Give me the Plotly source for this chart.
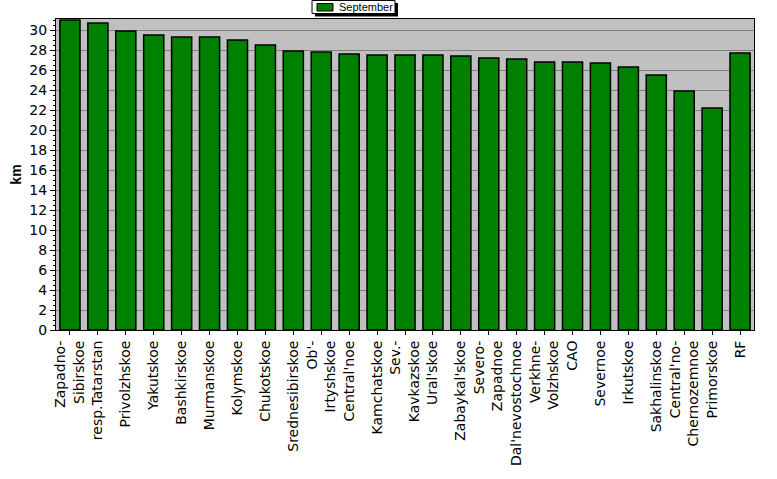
import plotly.graph_objects as go

categories = ["Zapadno-<br>Sibirskoe", "resp.Tatarstan", "Privolzhskoe", "Yakutskoe", "Bashkirskoe",
              "Murmanskoe", "Kolymskoe", "Chukotskoe", "Srednesibirskoe", "Ob'-<br>Irtyshskoe",
              "Central'noe", "Kamchatskoe", "Sev.-<br>Kavkazskoe", "Ural'skoe", "Zabaykal'skoe",
              "Severo-<br>Zapadnoe", "Dal'nevostochnoe", "Verkhne-<br>Volzhskoe", "CAO", "Severnoe",
              "Irkutskoe", "Sakhalinskoe", "Central'no-<br>Chernozemnoe", "Primorskoe", "RF"]
september = [31.0, 30.7, 29.9, 29.5, 29.3, 29.3, 29.0, 28.5, 27.9, 27.8,
             27.6, 27.5, 27.5, 27.5, 27.4, 27.2, 27.1, 26.8, 26.8, 26.7,
             26.3, 25.5, 23.9, 22.2, 27.7]
series_name = "September"

W, H = 777, 479
L, R, T, B = 56, 23, 19, 149
PW, PH = W - L - R, H - T - B


def px(x):
    return (x - L) / PW


def py(y):
    return (H - B - y) / PH


fig = go.Figure()
fig.add_trace(go.Bar(
    x=categories, y=september, name=series_name,
    marker=dict(color="#008000", line=dict(color="black", width=1.5)),
    showlegend=False,
))

# manual legend box with drop shadow
shapes = [
    dict(type="rect", xref="paper", yref="paper", x0=px(315), x1=px(398), y0=py(16.5), y1=py(3),
         fillcolor="black", line=dict(width=0), layer="above"),
    dict(type="rect", xref="paper", yref="paper", x0=px(312), x1=px(395), y0=py(13.5), y1=py(0.5),
         fillcolor="white", line=dict(color="black", width=1), layer="above"),
    dict(type="rect", xref="paper", yref="paper", x0=px(317), x1=px(333), y0=py(11), y1=py(3.5),
         fillcolor="#008000", line=dict(color="black", width=1), layer="above"),
]

fig.update_layout(
    width=W, height=H,
    margin=dict(l=L, r=R, t=T, b=B, pad=0, autoexpand=False),
    paper_bgcolor="white", plot_bgcolor="#C0C0C0",
    bargap=0.28,
    font=dict(family="DejaVu Sans, sans-serif", size=14, color="black"),
    showlegend=False,
    shapes=shapes,
    annotations=[dict(text=series_name, xref="paper", yref="paper", x=px(337), y=py(7),
                      xanchor="left", yanchor="middle", showarrow=False,
                      font=dict(family="Liberation Sans, Arial, sans-serif", size=11))],
    xaxis=dict(
        tickangle=-90, showgrid=False, ticks="outside", ticklen=4, tickcolor="black",
        showline=True, linecolor="black", linewidth=1, mirror=True,
        tickfont=dict(size=14),
    ),
    yaxis=dict(
        range=[0, 31.1], dtick=2, tick0=0, ticks="outside", ticklen=5, tickcolor="black",
        showline=True, linecolor="black", linewidth=1, mirror=True,
        gridcolor="#808080", gridwidth=1, zeroline=False,
        tickfont=dict(size=14),
        title=dict(text="<b>km</b>", font=dict(family="Liberation Sans, Arial, sans-serif", size=14),
                   standoff=4),
        minor=dict(ticks="outside", ticklen=2, dtick=0.5, tickcolor="black", showgrid=False),
    ),
)

fig.write_html("out.html")
